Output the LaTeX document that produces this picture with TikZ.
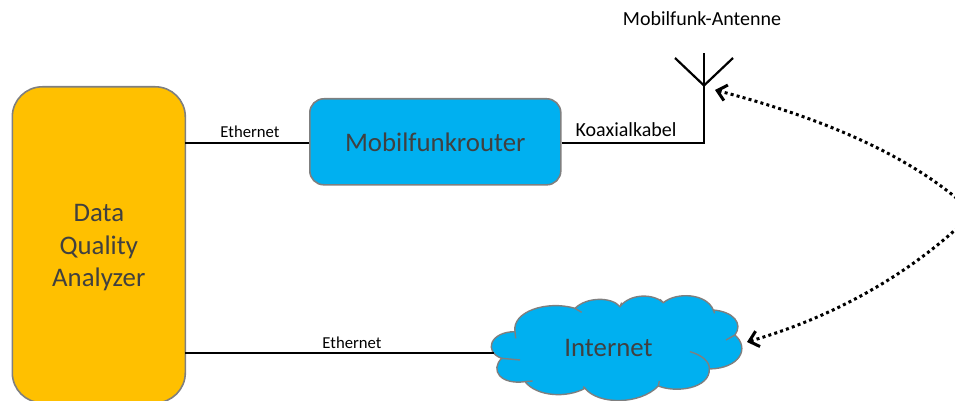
\documentclass[tikz,border=0pt]{standalone}
\usepackage{fontspec}
\setmainfont{Carlito}
\usetikzlibrary{arrows.meta}
\definecolor{boxgold}{HTML}{FFC000}
\definecolor{boxblue}{HTML}{00B0F0}
\definecolor{boxline}{HTML}{7F7F7F}
\definecolor{boxtext}{HTML}{404040}
\tikzset{
  x=1pt,y=-1pt,
  box/.style={draw=boxline,line width=1.6pt,rounded corners=#1,inner sep=0pt,text=boxtext,font=\fontsize{26.8}{32.5}\selectfont,align=center},
  wire/.style={line width=2.2pt,black},
  small/.style={inner sep=0pt,font=\fontsize{16.7}{20}\selectfont,text=black},
  smaller/.style={inner sep=0pt,font=\fontsize{20}{24}\selectfont,text=black},
  cloudline/.style={draw=boxline,line width=1.4pt},
  link/.style={line width=3pt,black,dash pattern=on 3pt off 3.2pt,{Straight Barb[length=9pt,width=16pt,line width=3pt]}-}
}
\begin{document}
\begin{tikzpicture}
\useasboundingbox (0,0) rectangle (955,401);
\begin{scope}
\clip (0,0) rectangle (955,401);
\node[box=30pt,fill=boxgold,minimum width=173pt,minimum height=316pt,anchor=north west] (dqa) at (11.5,86) {\rule{0pt}{23pt}Data\\Quality\\Analyzer};
\node[box=14pt,fill=boxblue,minimum width=251pt,minimum height=86pt,anchor=north west] (router) at (309,98) {Mobilfunkrouter};
% cloud
\begin{scope}[shift={(480,280)},x=0.3333pt,y=-0.3333pt]
\path[fill=boxblue,cloudline] (105,155)
 .. controls (95,95) and (200,60) .. (285,85)
 .. controls (320,50) and (395,50) .. (420,80)
 .. controls (450,40) and (520,40) .. (550,68)
 .. controls (590,35) and (680,40) .. (700,90)
 .. controls (760,95) and (790,130) .. (765,165)
 .. controls (810,205) and (780,265) .. (688,267)
 .. controls (690,325) and (590,340) .. (535,318)
 .. controls (480,375) and (355,375) .. (315,325)
 .. controls (260,355) and (170,350) .. (135,305)
 .. controls (60,315) and (30,270) .. (65,235)
 .. controls (10,215) and (30,155) .. (105,155) -- cycle;
\draw[cloudline] (105,155) -- (107,175);
\draw[cloudline] (285,85) -- (305,97);
\draw[cloudline] (420,80) -- (425,68);
\draw[cloudline] (550,68) -- (540,58);
\draw[cloudline] (700,90) -- (704,100);
\draw[cloudline] (765,165) -- (738,180);
\draw[cloudline] (630,215) .. controls (665,225) and (690,245) .. (688,267);
\draw[cloudline] (535,318) -- (538,303);
\draw[cloudline] (315,325) -- (310,320);
\draw[cloudline] (135,305) -- (158,303);
\draw[cloudline] (65,235) -- (120,240);
\end{scope}
\node[inner sep=0pt,text=boxtext,font=\fontsize{26.8}{32}\selectfont] (inet) at (608.5,348) {Internet};
\coordinate (inetwest) at (494,353);
\coordinate (dqab) at (185,353);
\coordinate (dqat) at (185,143);
\coordinate (corner) at (704,143);
\coordinate (fork) at (704,85.5);
\coordinate (top) at (704,53);
\coordinate (tipl) at (675,58);
\coordinate (tipr) at (733,58);
\draw[wire] (dqat) -- (router.west |- dqat);
\draw[wire] (dqab) -- (inetwest);
\draw[wire] (router.east |- corner) -- (corner) -- (top);
\draw[wire] (tipl) -- (fork) -- (tipr);
\node[small] (e1) at (250,132) {Ethernet};
\node[small] (e2) at (352,343) {Ethernet};
\node[smaller] (koax) at (626,130) {Koaxialkabel};
\node[smaller] (ant) at (702,19) {Mobilfunk-Antenne};
\coordinate (a1) at (715,90);
\coordinate (a2) at (747,342);
\coordinate (e3) at (975,215);
\coordinate (e4) at (970,216);
\draw[link] (a1) .. controls (800,112) and (910,150) .. (e3);
\draw[link] (a2) .. controls (840,315) and (915,270) .. (e4);
\end{scope}
\end{tikzpicture}
\end{document}
